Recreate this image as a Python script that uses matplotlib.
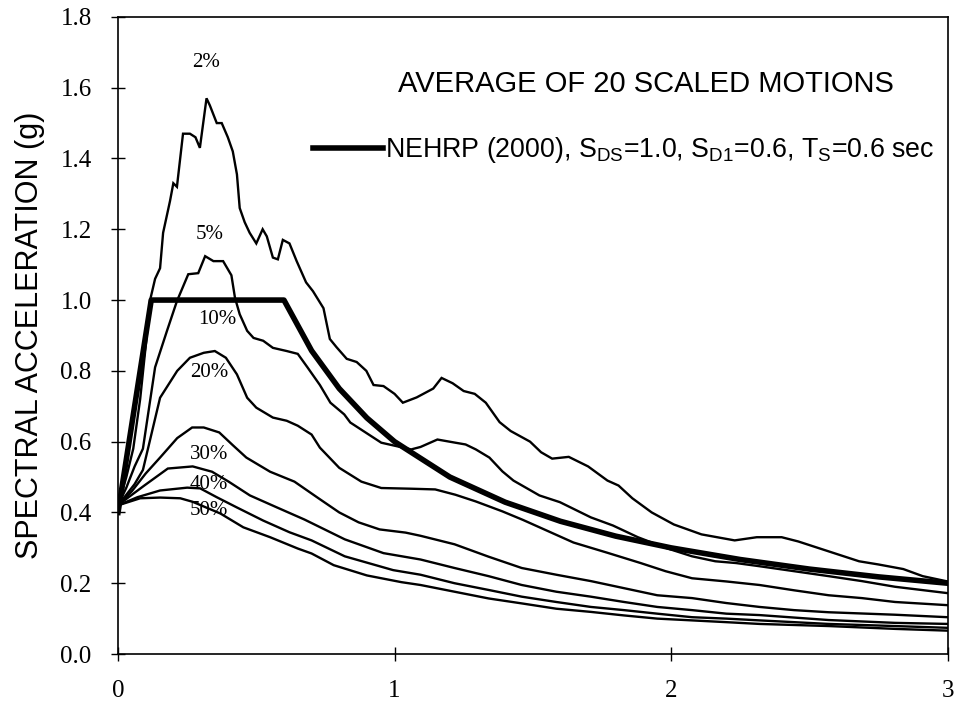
import matplotlib
matplotlib.use("Agg")
import matplotlib.pyplot as plt

# spectral period (sec) and average spectral acceleration (g) for each damping / exceedance curve
t_2 = [0, 0.03, 0.055, 0.08, 0.104, 0.116, 0.134, 0.152, 0.163, 0.188, 0.2, 0.213, 0.235, 0.26, 0.28,
       0.296, 0.32, 0.332, 0.357, 0.375, 0.397, 0.415, 0.43, 0.44, 0.458, 0.476, 0.50, 0.523, 0.538,
       0.56, 0.578, 0.596, 0.62, 0.646, 0.68, 0.705, 0.743, 0.766, 0.79, 0.827, 0.863, 0.898, 0.924,
       0.96, 1.0, 1.03, 1.08, 1.14, 1.17, 1.21, 1.25, 1.29, 1.33, 1.38, 1.42, 1.49, 1.53, 1.57, 1.63,
       1.70, 1.77, 1.81, 1.86, 1.93, 2.01, 2.11, 2.23, 2.31, 2.40, 2.46, 2.57, 2.68, 2.75, 2.84, 2.91, 3.0]
sa_2 = [0.42, 0.50, 0.58, 0.72, 0.90, 1.00, 1.06, 1.09, 1.19, 1.28, 1.33, 1.32, 1.47, 1.47, 1.46,
        1.43, 1.57, 1.55, 1.50, 1.50, 1.46, 1.42, 1.355, 1.26, 1.22, 1.19, 1.16, 1.20, 1.18,
        1.12, 1.115, 1.17, 1.16, 1.11, 1.05, 1.025, 0.977, 0.89, 0.867, 0.834, 0.825, 0.80, 0.76,
        0.757, 0.735, 0.71, 0.725, 0.75, 0.78, 0.765, 0.743, 0.735, 0.71, 0.655, 0.63, 0.60, 0.57, 0.552, 0.557,
        0.53, 0.49, 0.476, 0.44, 0.40, 0.366, 0.338, 0.321, 0.33, 0.33, 0.318, 0.29, 0.262, 0.253, 0.24, 0.22, 0.205]

t_5 = [0, 0.03, 0.06, 0.09, 0.134, 0.177, 0.213, 0.254, 0.29, 0.315, 0.345, 0.38, 0.41, 0.423, 0.44,
       0.467, 0.49, 0.525, 0.56, 0.61, 0.65, 0.685, 0.73, 0.768, 0.818, 0.84, 0.952, 1.06, 1.094, 1.155,
       1.22, 1.257, 1.294, 1.343, 1.39, 1.43, 1.524, 1.598, 1.71, 1.79, 1.88, 1.98, 2.076, 2.16, 2.235,
       2.32, 2.445, 2.57, 2.69, 2.81, 3.0]
sa_5 = [0.42, 0.47, 0.53, 0.58, 0.81, 0.913, 0.997, 1.073, 1.076, 1.124, 1.11, 1.11, 1.07, 1.006, 0.96,
        0.913, 0.893, 0.885, 0.865, 0.856, 0.848, 0.81, 0.76, 0.71, 0.677, 0.654, 0.597, 0.578, 0.585, 0.606,
        0.597, 0.592, 0.578, 0.555, 0.516, 0.49, 0.448, 0.429, 0.386, 0.363, 0.33, 0.30, 0.276, 0.262, 0.257,
        0.248, 0.234, 0.22, 0.206, 0.19, 0.172]

t_10 = [0, 0.03, 0.06, 0.09, 0.152, 0.214, 0.26, 0.31, 0.35, 0.39, 0.43, 0.467, 0.50, 0.56, 0.61, 0.65,
        0.70, 0.73, 0.80, 0.88, 0.952, 1.06, 1.147, 1.22, 1.294, 1.39, 1.464, 1.647, 1.77, 1.89, 1.98,
        2.076, 2.2, 2.32, 2.445, 2.57, 2.69, 2.81, 3.0]
sa_10 = [0.42, 0.45, 0.48, 0.52, 0.724, 0.80, 0.837, 0.851, 0.856, 0.837, 0.79, 0.724, 0.696, 0.668, 0.659, 0.645,
         0.62, 0.583, 0.526, 0.487, 0.469, 0.467, 0.465, 0.45, 0.431, 0.403, 0.379, 0.315, 0.286, 0.257, 0.234,
         0.214, 0.205, 0.195, 0.18, 0.166, 0.158, 0.147, 0.138]

t_20 = [0, 0.05, 0.1, 0.152, 0.214, 0.268, 0.31, 0.366, 0.415, 0.464, 0.55, 0.638, 0.725, 0.80, 0.87,
        0.946, 1.04, 1.094, 1.217, 1.34, 1.46, 1.585, 1.71, 1.83, 1.95, 2.076, 2.2, 2.32, 2.445, 2.57, 2.81, 3.0]
sa_20 = [0.42, 0.46, 0.51, 0.555, 0.61, 0.64, 0.64, 0.626, 0.59, 0.555, 0.515, 0.487, 0.44, 0.40, 0.372,
         0.352, 0.343, 0.334, 0.31, 0.275, 0.243, 0.224, 0.206, 0.186, 0.166, 0.158, 0.144, 0.133, 0.124, 0.118, 0.111, 0.104]

t_30 = [0, 0.033, 0.095, 0.18, 0.27, 0.34, 0.40, 0.477, 0.575, 0.674, 0.82, 0.96, 1.094, 1.217, 1.34,
        1.46, 1.585, 1.71, 1.83, 1.95, 2.076, 2.2, 2.32, 2.57, 2.81, 3.0]
sa_30 = [0.42, 0.44, 0.476, 0.524, 0.53, 0.515, 0.487, 0.448, 0.414, 0.38, 0.324, 0.285, 0.267, 0.243, 0.22,
         0.195, 0.176, 0.162, 0.147, 0.133, 0.124, 0.114, 0.11, 0.096, 0.088, 0.085]

t_40 = [0, 0.07, 0.152, 0.25, 0.297, 0.357, 0.43, 0.525, 0.62, 0.70, 0.82, 0.995, 1.094, 1.217, 1.34,
        1.46, 1.585, 1.71, 1.83, 1.95, 2.076, 2.2, 2.32, 2.57, 2.81, 3.0]
sa_40 = [0.42, 0.443, 0.462, 0.47, 0.468, 0.443, 0.414, 0.377, 0.344, 0.321, 0.276, 0.237, 0.224, 0.2, 0.181,
         0.162, 0.147, 0.133, 0.124, 0.114, 0.104, 0.10, 0.095, 0.085, 0.079, 0.074]

t_50 = [0, 0.08, 0.152, 0.225, 0.27, 0.37, 0.453, 0.55, 0.65, 0.70, 0.78, 0.90, 1.025, 1.094, 1.217,
        1.34, 1.46, 1.585, 1.71, 1.83, 1.95, 2.076, 2.2, 2.32, 2.57, 2.81, 3.0]
sa_50 = [0.42, 0.44, 0.442, 0.44, 0.43, 0.397, 0.358, 0.33, 0.298, 0.284, 0.251, 0.222, 0.203, 0.195, 0.176,
         0.157, 0.143, 0.128, 0.119, 0.109, 0.10, 0.095, 0.09, 0.085, 0.079, 0.071, 0.066]

# NEHRP (2000) design spectrum, SDS=1.0, SD1=0.6
t_nehrp = [0, 0.12, 0.6, 0.7, 0.8, 0.9, 1.0, 1.2, 1.4, 1.6, 1.8, 2.0, 2.25, 2.5, 2.75, 3.0]
sa_nehrp = [0.4, 1.0, 1.0, 0.857, 0.75, 0.667, 0.6, 0.5, 0.429, 0.375, 0.333, 0.3, 0.267, 0.24, 0.218, 0.2]

curve_labels = ["2%", "5%", "10%", "20%", "30%", "40%", "50%"]
label_t = [0.32, 0.33, 0.36, 0.33, 0.33, 0.33, 0.33]
label_sa = [1.67, 1.185, 0.945, 0.795, 0.565, 0.48, 0.405]

x_ticks = [0, 1, 2, 3]
y_ticks = [0.0, 0.2, 0.4, 0.6, 0.8, 1.0, 1.2, 1.4, 1.6, 1.8]

plt.rcParams["mathtext.default"] = "regular"

fig = plt.figure(figsize=(9.62, 7.04), dpi=100)
ax = fig.add_axes([0.1227, 0.071, 0.8623, 0.905])

curves = [(t_2, sa_2), (t_5, sa_5), (t_10, sa_10), (t_20, sa_20),
          (t_30, sa_30), (t_40, sa_40), (t_50, sa_50)]
for t, sa in curves:
    ax.plot(t, sa, color="black", lw=1.7, solid_joinstyle="miter")

ax.plot(t_nehrp, sa_nehrp, color="black", lw=4,
        label="NEHRP (2000), S$_{DS}$=1.0, S$_{D1}$=0.6, T$_{S}$=0.6 sec")

for lab, tx, ty in zip(curve_labels, label_t, label_sa):
    ax.text(tx, ty, lab, ha="center", va="center", fontsize=15, family="Liberation Serif")

ax.text(0.636, 0.894, "AVERAGE OF 20 SCALED MOTIONS", transform=ax.transAxes,
        ha="center", va="center", fontsize=21, family="Liberation Sans")

leg = ax.legend(loc="center left", bbox_to_anchor=(0.235, 0.791), frameon=False,
                prop={"family": "Liberation Sans", "size": 19.3},
                handlelength=2.6, handletextpad=0.1, borderpad=0, borderaxespad=0)

ax.set_xlim(0, 3)
ax.set_ylim(0, 1.8)
ax.set_xticks(x_ticks)
ax.set_xticklabels([str(v) for v in x_ticks])
ax.set_yticks(y_ticks)
ax.set_yticklabels([f"{v:.1f}" for v in y_ticks])
ax.tick_params(direction="inout", length=10, width=1, labelsize=18)
ax.tick_params(axis="y", pad=14)
ax.tick_params(axis="x", pad=14)
for lbl in ax.get_xticklabels() + ax.get_yticklabels():
    lbl.set_family("Liberation Serif")
ax.set_ylabel("SPECTRAL ACCELERATION (g)", fontsize=22, family="Liberation Sans", labelpad=11)
for s in ax.spines.values():
    s.set_linewidth(1.2)

fig.savefig("out.png", dpi=100)
